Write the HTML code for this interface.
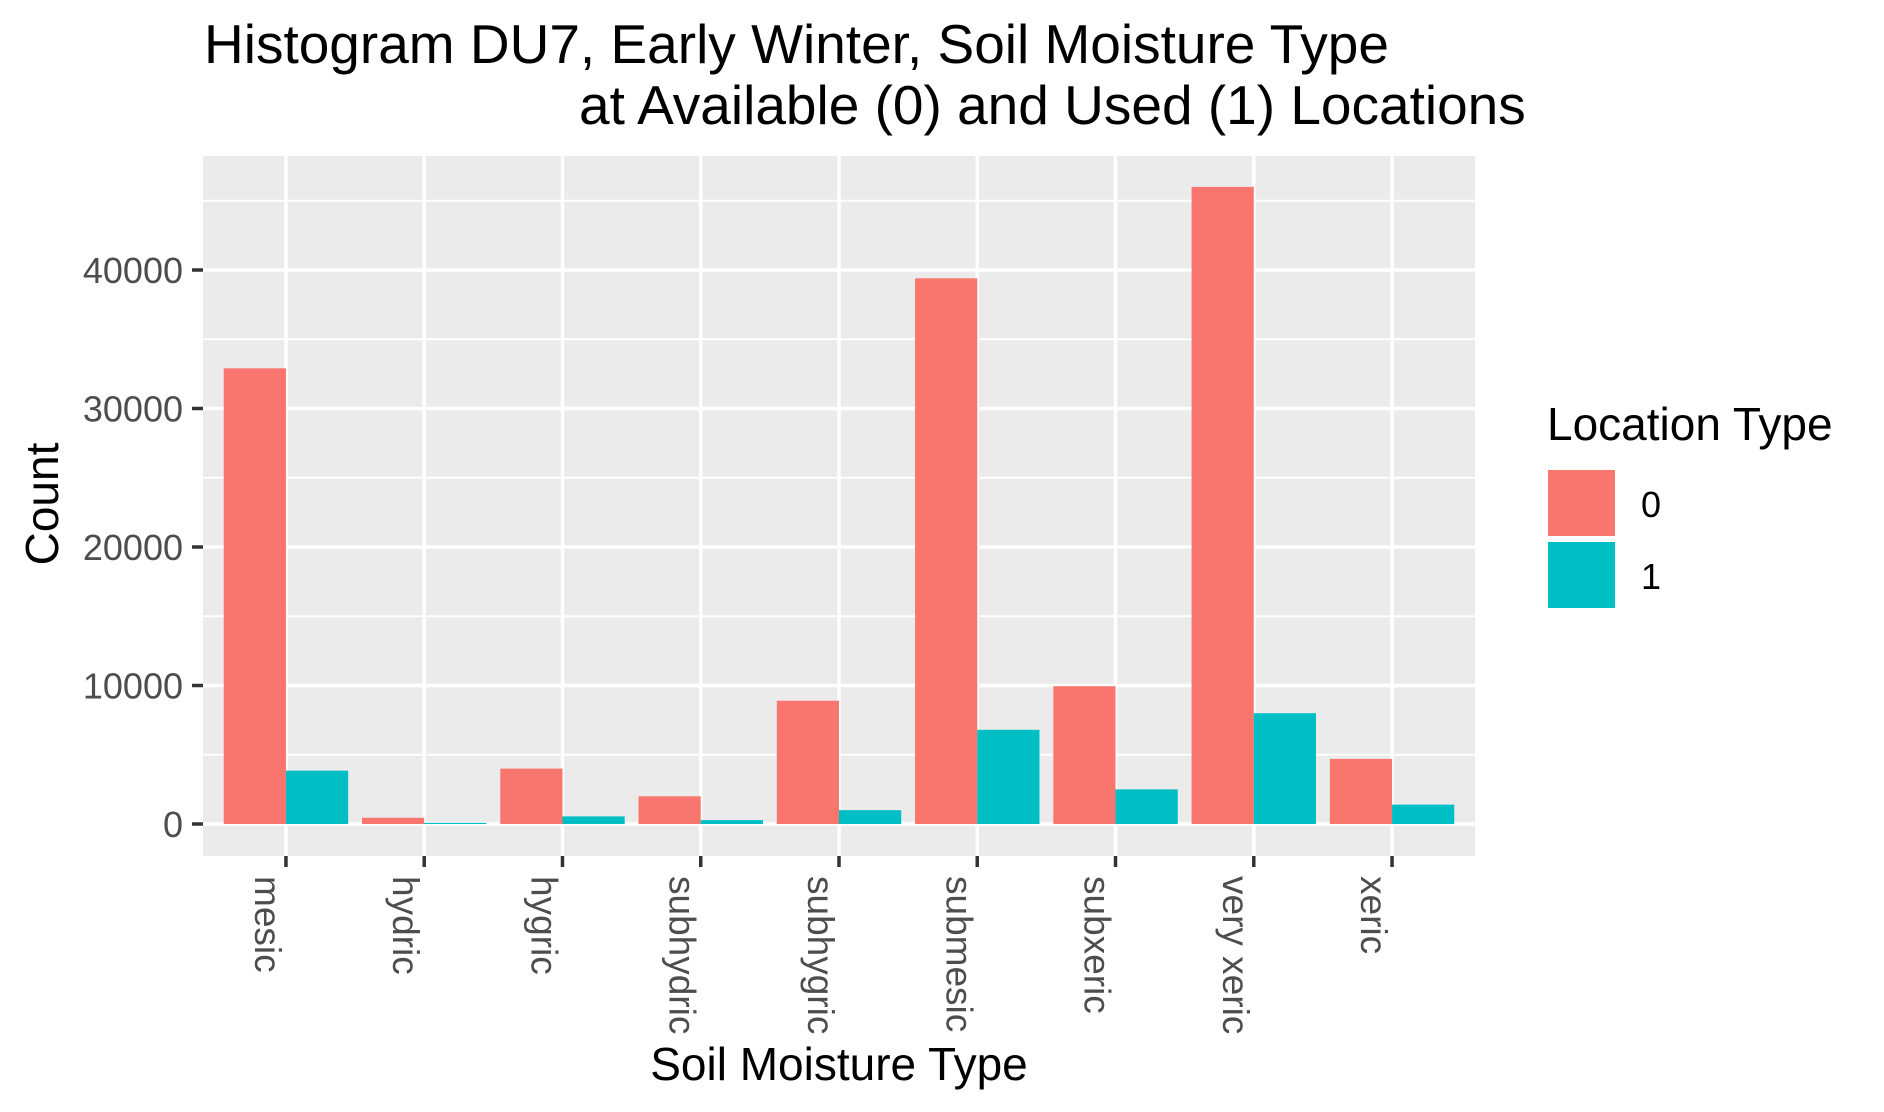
<!DOCTYPE html>
<html><head><meta charset="utf-8"><style>
html,body{margin:0;padding:0;background:#fff;}
svg{display:block;font-family:"Liberation Sans",Arial,sans-serif;}
</style></head><body>
<svg id="chart" width="1884" height="1112" viewBox="0 0 1884 1112" xmlns="http://www.w3.org/2000/svg">
<text x="204" y="63" font-size="55" fill="#000">Histogram DU7, Early Winter, Soil Moisture Type</text>
<text x="579" y="124" font-size="55" fill="#000">at Available (0) and Used (1) Locations</text>
<rect x="203" y="156" width="1272" height="700" fill="#ebebeb"/>
<g id="grid"></g>
<g id="bars"></g>
<g id="axes"></g>
<text x="839" y="1080" font-size="46" text-anchor="middle" fill="#000">Soil Moisture Type</text>
<text transform="translate(58,504) rotate(-90)" font-size="46" text-anchor="middle" fill="#000">Count</text>
<g>
<text x="1547" y="440" font-size="46" fill="#000">Location Type</text>
<rect x="1548" y="470" width="67" height="66" fill="#f8766d"/>
<text x="1641" y="517" font-size="36" fill="#000">0</text>
<rect x="1548" y="542" width="67" height="66" fill="#00bfc4"/>
<text x="1641" y="589" font-size="36" fill="#000">1</text>
</g>
</svg>
<script>
const categories = ["mesic","hydric","hygric","subhydric","subhygric","submesic","subxeric","very xeric","xeric"];
const available = [32900, 450, 4000, 2000, 8900, 39400, 9950, 46000, 4700];
const used = [3850, 80, 550, 280, 1000, 6800, 2500, 8000, 1400];
const yTicks = [0, 10000, 20000, 30000, 40000];
const yTickLabels = ["0","10000","20000","30000","40000"];

const NS = "http://www.w3.org/2000/svg";
const panel = {x0:203, x1:1475, y0:156, y1:856};
const zeroY = 824, perUnit = 138.5 / 10000;
const yMin = -(panel.y1 - zeroY) / perUnit, yMax = (zeroY - panel.y0) / perUnit;
const n = categories.length;
const unit = (panel.x1 - panel.x0) / (n - 1 + 1.2);
function xScale(i){ return panel.x0 + (0.6 + i) * unit; }
function yScale(v){ return panel.y1 - (v - yMin) / (yMax - yMin) * (panel.y1 - panel.y0); }
function mk(tag, attrs, parent){ const e = document.createElementNS(NS, tag); for (const k in attrs) e.setAttribute(k, attrs[k]); parent.appendChild(e); return e; }

const grid = document.getElementById('grid');
const bars = document.getElementById('bars');
const axes = document.getElementById('axes');

for (let i = 0; i < yTicks.length; i++) {
  const v = yTicks[i] + 5000;
  if (v < yMax) {
    const l = mk('line', {x1:panel.x0, x2:panel.x1, y1:yScale(v), y2:yScale(v), stroke:'#fff', 'stroke-width':2}, grid);
    
    
  }
}
yTicks.forEach((v, i) => {
  const y = yScale(v);
  const l = mk('line', {x1:panel.x0, x2:panel.x1, y1:y, y2:y, stroke:'#fff', 'stroke-width':3.5}, grid);
  
  
  const t = mk('line', {x1:panel.x0 - 11, x2:panel.x0, y1:y, y2:y, stroke:'#333', 'stroke-width':3.5}, axes);
  
  
  const tx = mk('text', {x:panel.x0 - 20, y:y + 13, 'font-size':36, 'text-anchor':'end', fill:'#4d4d4d'}, axes);
  tx.textContent = yTickLabels[i];
  
  
});
categories.forEach((c, i) => {
  const x = xScale(i);
  const l = mk('line', {x1:x, x2:x, y1:panel.y0, y2:panel.y1, stroke:'#fff', 'stroke-width':3.5}, grid);
  
  
  const half = 0.45 * unit;
  const b0 = mk('rect', {x:x - half, y:yScale(available[i]), width:half, height:yScale(0) - yScale(available[i]), fill:'#f8766d'}, bars);
  
  
  const b1 = mk('rect', {x:x, y:yScale(used[i]), width:half, height:yScale(0) - yScale(used[i]), fill:'#00bfc4'}, bars);
  
  
  const t = mk('line', {x1:x, x2:x, y1:panel.y1, y2:panel.y1 + 11, stroke:'#333', 'stroke-width':3.5}, axes);
  
  
  const tx = mk('text', {transform:'translate(' + (x - 31) + ',' + (panel.y1 + 20) + ') rotate(90)', 'font-size':37, fill:'#4d4d4d'}, axes);
  tx.textContent = c;
  
  
});
</script>
</body></html>
